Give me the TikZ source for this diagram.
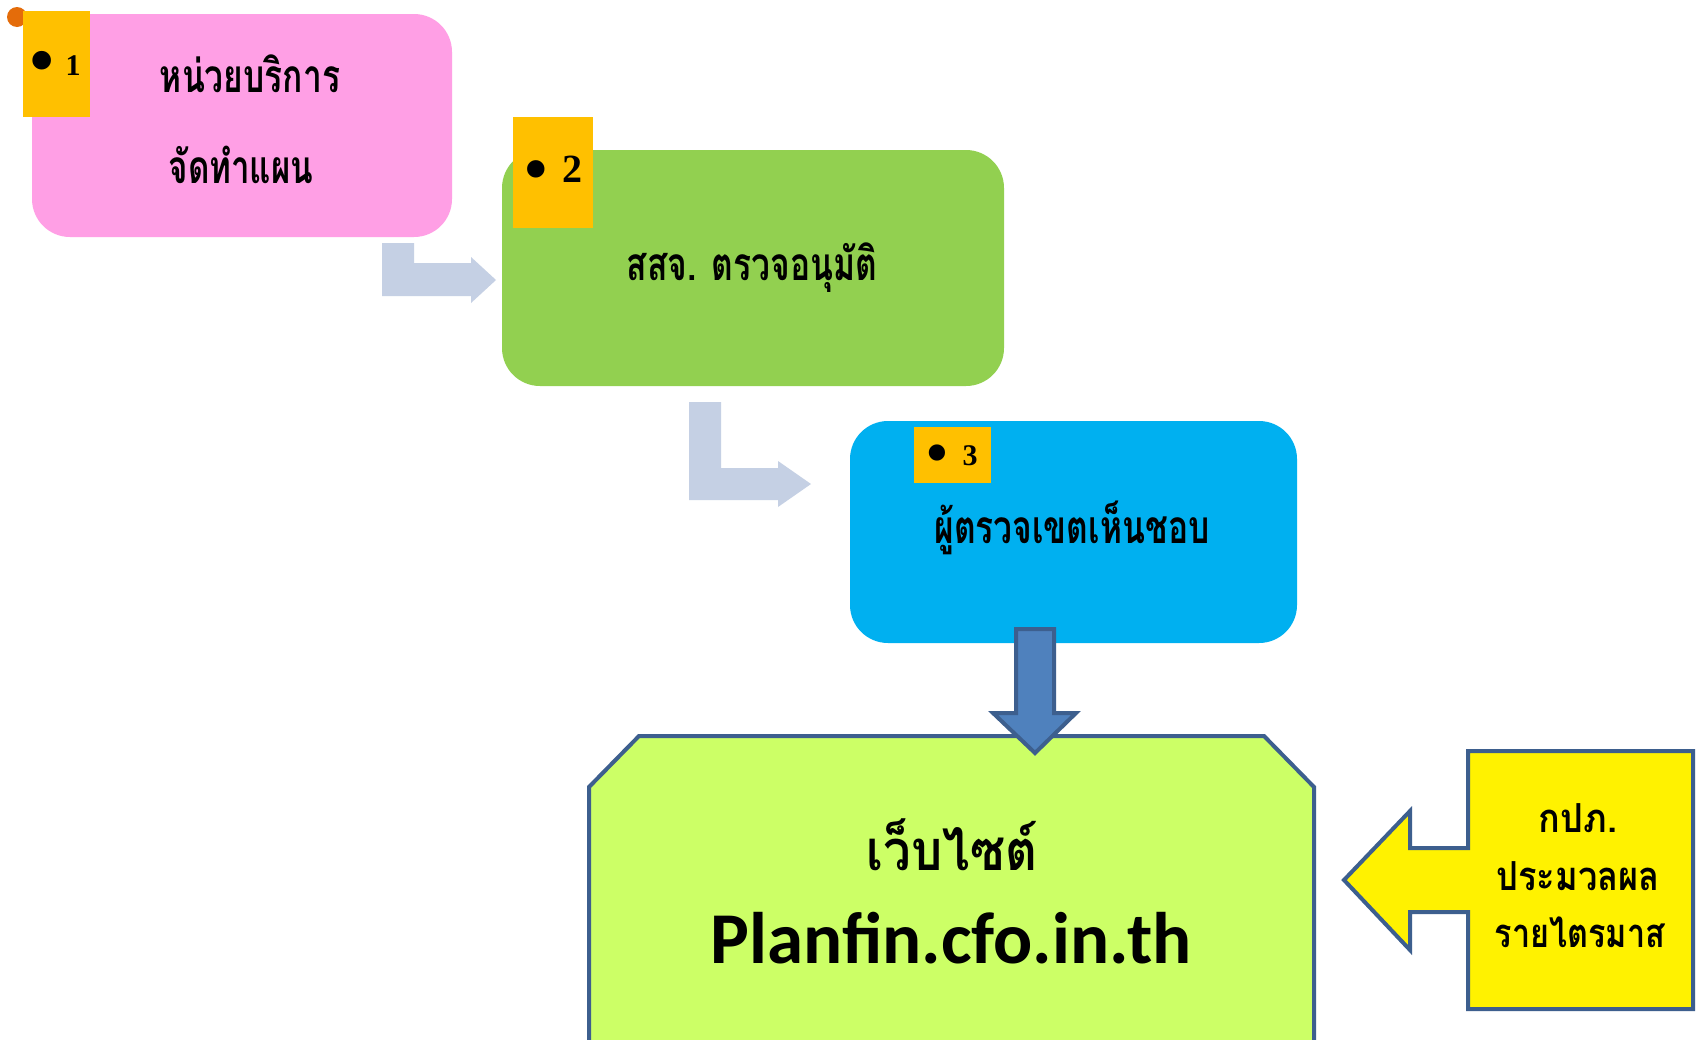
\documentclass[tikz,border=0pt]{standalone}
\usepackage{fontspec}
\setmainfont{Liberation Serif}
\newfontfamily\thaifont[Script=Thai]{Loma}
\newfontfamily\urlfont{Carlito}
\definecolor{pinkbox}{HTML}{FF9FE5}
\definecolor{greenbox}{HTML}{92D050}
\definecolor{bluebox}{HTML}{00B0F0}
\definecolor{badge}{HTML}{FFC000}
\definecolor{grayarrow}{HTML}{C5D0E4}
\definecolor{darkblue}{HTML}{3D5F8E}
\definecolor{midblue}{HTML}{4F81BD}
\definecolor{limebox}{HTML}{CCFF66}
\definecolor{orangedot}{HTML}{E46C0A}
\newcommand\TT[3]{\scalebox{#1}[1]{\fontsize{#2}{#2}\selectfont\thaifont\bfseries #3}}
\begin{document}
\begin{tikzpicture}[x=1pt,y=-1pt,
  stepbox/.style={fill=#1,draw=none,rounded corners=38pt},
  badgebox/.style={fill=badge,draw=none},
  thtext/.style={inner sep=0pt,anchor=base},
  bullettext/.style={inner sep=0pt,font=\fontsize{#1}{#1}\selectfont},
  numtext/.style={inner sep=0pt,anchor=base,font=\fontsize{#1}{#1}\selectfont\bfseries},
  blockarrow/.style={fill=grayarrow,draw=none},
  outlined/.style={fill=#1,draw=darkblue,line width=4pt,line join=miter}]
\useasboundingbox (0,0) rectangle (1700,1039);
\fill[white] (0,0) rectangle (1700,1039);
% box 1
\fill[orangedot] (17,17) circle (10);
\fill[stepbox=pinkbox] (32,14) rectangle (452,237);
\fill[badgebox] (23,11) rectangle (90,117);
\node[bullettext=78] (b1) at (42,69) {•};
\node[numtext=30] (n1) at (73,75) {1};
\node[thtext] (t1a) at (250,92) {\TT{0.73}{46}{หน่วยบริการ}};
\node[thtext] (t1b) at (241,183) {\TT{0.72}{46}{จัดทำแผน}};
% arrow 1
\fill[blockarrow] (382,243) -- (414,243) -- (414,263) -- (471,263) -- (471,257) -- (496,280) -- (471,303) -- (471,296) -- (382,296) -- cycle;
% box 2
\fill[stepbox=greenbox] (502,150) rectangle (1004,386);
\fill[badgebox] (513,117) rectangle (593,228);
\node[bullettext=73] (b2) at (536,177) {•};
\node[numtext=40] (n2) at (572,182) {2};
\node[thtext] (t2) at (752,280) {\TT{0.73}{46}{สสจ. ตรวจอนุมัติ}};
% arrow 2
\fill[blockarrow] (689,402) -- (721,402) -- (721,468) -- (778,468) -- (778,461) -- (811,484) -- (778,507) -- (778,500) -- (689,500) -- cycle;
% box 3
\fill[stepbox=bluebox] (850,421) rectangle (1297,643);
\fill[badgebox] (914,427) rectangle (991,483);
\node[bullettext=68] (b3) at (937,460) {•};
\node[numtext=30] (n3) at (970,465) {3};
\node[thtext] (t3) at (1072,543) {\TT{0.73}{46}{ผู้ตรวจเขตเห็นชอบ}};
% website box
\draw[outlined=limebox] (589,1050) -- (589,787) -- (639,736) -- (1264,736) -- (1314,787) -- (1314,1050);
\node[thtext] (t4a) at (952,870) {\TT{0.88}{56}{เว็บไซต์}};
\node[thtext] (t4b) at (951,963) {\fontsize{73}{73}\selectfont\urlfont\bfseries Planfin.cfo.in.th};
% down arrow
\draw[outlined=midblue] (1016,629) -- (1054,629) -- (1054,713) -- (1076,713) -- (1035,753) -- (993,713) -- (1016,713) -- cycle;
% yellow callout
\draw[outlined=yellow] (1468,751) -- (1693,751) -- (1693,1009) -- (1468,1009) -- (1468,912) -- (1410,912) -- (1410,950) -- (1344,880) -- (1410,811) -- (1410,848) -- (1468,848) -- cycle;
\node[thtext] (t5a) at (1578,832) {\TT{0.9}{40}{กปภ.}};
\node[thtext] (t5b) at (1578,890) {\TT{0.86}{40}{ประมวลผล}};
\node[thtext] (t5c) at (1580,947) {\TT{0.81}{40}{รายไตรมาส}};
\end{tikzpicture}
\end{document}
